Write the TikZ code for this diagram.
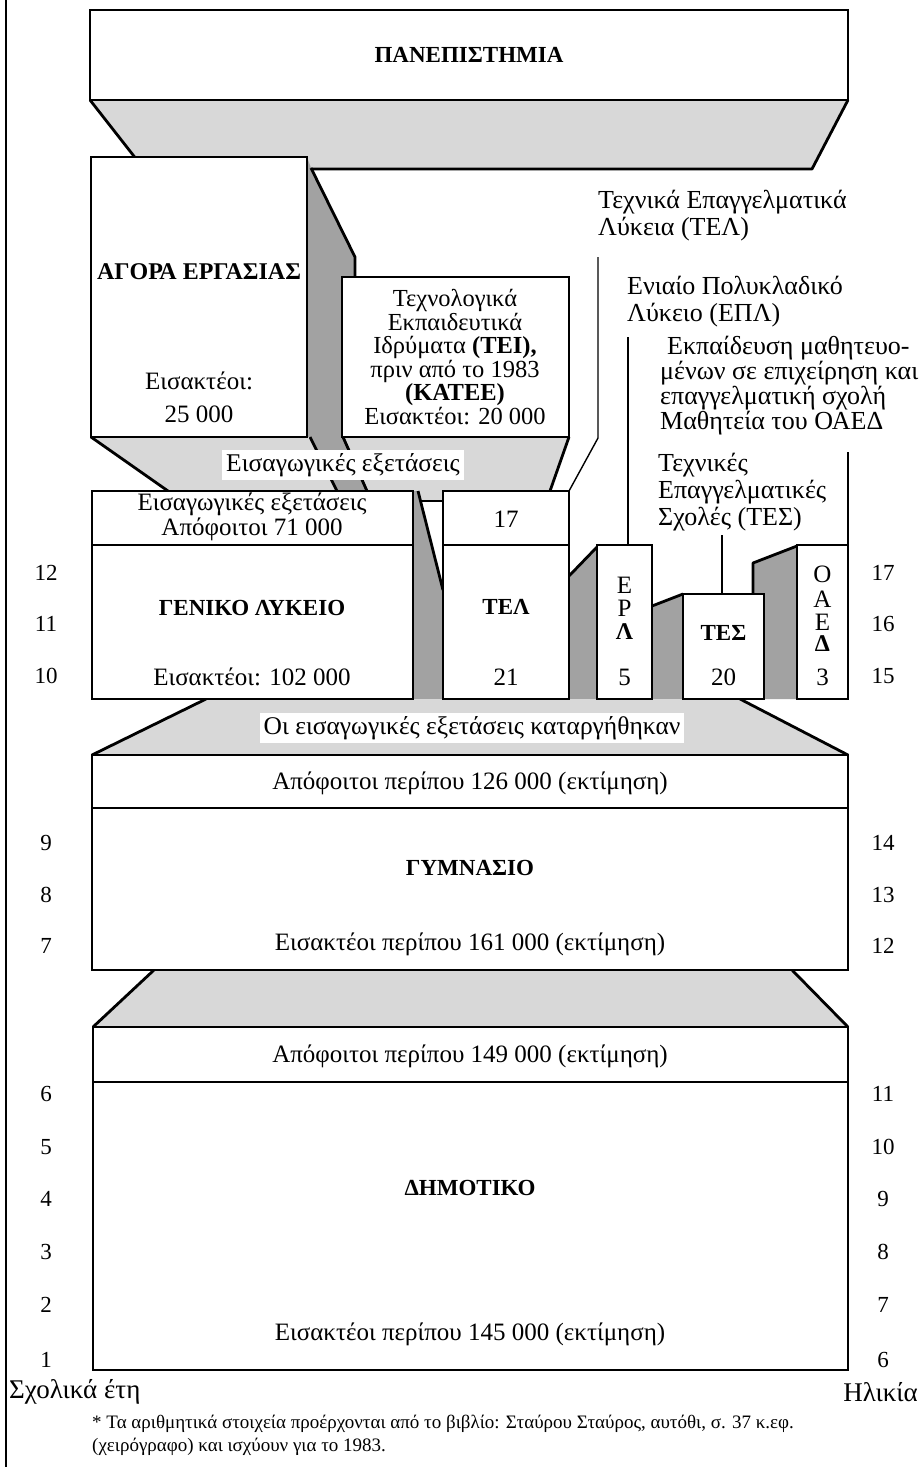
\documentclass[tikz,border=0pt]{standalone}
\usepackage{fontspec}
\setmainfont{Liberation Serif}
\usepackage{tikz}
\usetikzlibrary{calc}
\definecolor{ColLight}{RGB}{216,216,216}
\definecolor{ColDark}{RGB}{162,162,162}
\tikzstyle{BoxNode}=[draw=black,fill=white,line width=2.8pt,inner sep=0pt,outer sep=0pt,
font=\fontsize{23}{24}\selectfont\bfseries]
\tikzstyle{EdgeLine}=[black,line width=2.8pt,line join=round]
\tikzstyle{SplitLine}=[black,line width=2pt]
\tikzstyle{PointerLine}=[black,line width=1.4pt]
\tikzstyle{TextNode}=[inner sep=0pt,font=\fontsize{25}{24}\selectfont]
\tikzstyle{TitleNode}=[inner sep=0pt,font=\fontsize{23}{24}\selectfont\bfseries]
\tikzstyle{LabelNode}=[inner sep=0pt,anchor=west,align=left,font=\fontsize{26}{27}\selectfont]
\tikzstyle{WhiteLabel}=[fill=white,inner xsep=4pt,inner ysep=3pt,font=\fontsize{25.5}{24}\selectfont]
\tikzstyle{YearNode}=[inner sep=0pt,font=\fontsize{23}{23}\selectfont]
\tikzstyle{NoteNode}=[inner sep=0pt,anchor=west,align=left,font=\fontsize{19}{23}\selectfont]

\begin{document}
\begin{tikzpicture}[x=1pt,y=-1pt]
        \useasboundingbox(0,0)rectangle(922,1467);
        % funnels and side strips
        \fill[ColLight](90,100)--(848,100)--(812,169)--(144,169)--cycle;
        \draw[EdgeLine](90,100)--(144,169)--(812,169)--(848,100);
        \fill[ColDark](307,157)--(311,168)--(355,257)--(355,277)--(342,277)--(342,437)--(307,437)--cycle;
        \draw[EdgeLine](311,168)--(355,257)--(355,277);
        \fill[ColLight](91,437)--(569,437)--(550,491)--(443,491)--(443,501)--(418,501)--(418,491)--(168,491)--cycle;
        \draw[EdgeLine](91,437)--(168,491);
        \draw[EdgeLine](569,437)--(550,491);
        \draw[SplitLine](418,501)--(443,501);
        \fill[ColDark](310,437)--(343,437)--(367,491)--(337,491)--cycle;
        \draw[EdgeLine](310,437)--(337,491);
        \draw[EdgeLine](343,437)--(367,491);
        \fill[ColDark](413,491)--(418,491)--(443,590)--(443,699)--(413,699)--cycle;
        \draw[EdgeLine](418,491)--(443,590);
        \fill[ColDark](569,576)--(597,547)--(597,699)--(569,699)--cycle;
        \draw[EdgeLine](569,576)--(597,547);
        \fill[ColDark](652,606)--(683,594)--(683,699)--(652,699)--cycle;
        \draw[EdgeLine](652,606)--(683,594);
        \fill[ColDark](753,594)--(753,563)--(797,546)--(797,699)--(753,699)--cycle;
        \draw[EdgeLine](753,594)--(753,563)--(797,546);
        \fill[ColLight](206,699)--(740,699)--(848,755)--(92,755)--cycle;
        \draw[EdgeLine](206,699)--(92,755);
        \draw[EdgeLine](740,699)--(848,755);
        \fill[ColLight](154,970)--(792,970)--(848,1027)--(93,1027)--cycle;
        \draw[EdgeLine](154,970)--(93,1027);
        \draw[EdgeLine](792,970)--(848,1027);
        % boxes
        \node[BoxNode,minimum width=758pt,minimum height=90pt](pan)at(469,55){ΠΑΝΕΠΙΣΤΗΜΙΑ};
        \node[BoxNode,minimum width=216pt,minimum height=280pt](agora)at(199,297){};
        \node[BoxNode,minimum width=227pt,minimum height=160pt](tei)at(455.5,357){};
        \node[BoxNode,minimum width=321pt,minimum height=208pt](lyk)at(252.5,595){};
        \node[BoxNode,minimum width=126pt,minimum height=208pt](tel)at(506,595){};
        \node[BoxNode,minimum width=55pt,minimum height=154pt](epl)at(624.5,622){};
        \node[BoxNode,minimum width=81pt,minimum height=105pt](tes)at(723.5,646.5){};
        \node[BoxNode,minimum width=51pt,minimum height=154pt](oaed)at(822.5,622){};
        \node[BoxNode,minimum width=756pt,minimum height=215pt](gym)at(470,862.5){};
        \node[BoxNode,minimum width=755pt,minimum height=343pt](dim)at(470.5,1198.5){};
        \draw[SplitLine]([yshift=-54pt]lyk.north west)--([yshift=-54pt]lyk.north east);
        \draw[SplitLine]([yshift=-54pt]tel.north west)--([yshift=-54pt]tel.north east);
        \draw[SplitLine]([yshift=-53pt]gym.north west)--([yshift=-53pt]gym.north east);
        \draw[SplitLine]([yshift=-55pt]dim.north west)--([yshift=-55pt]dim.north east);
        % labels on the funnels
        \node[WhiteLabel](examA)at(343,465){Εισαγωγικές εξετάσεις};
        \node[WhiteLabel](examB)at(472,728){Οι εισαγωγικές εξετάσεις καταργήθηκαν};
        % texts in the boxes
        \node[TitleNode,font=\fontsize{24}{24}\selectfont\bfseries](agoraT)at(199,272){ΑΓΟΡΑ ΕΡΓΑΣΙΑΣ};
        \node[TextNode](agoraA)at(199,381){Εισακτέοι:};
        \node[TextNode](agoraB)at(199,414){25 000};
        \node[TextNode,align=center,font=\fontsize{24.5}{23.5}\selectfont](teiT)at(455,357){Τεχνολογικά\\Εκπαιδευτικά\\Ιδρύματα \textbf{(ΤΕΙ),}\\πριν από το 1983\\\textbf{(ΚΑΤΕΕ)}\\Εισακτέοι: 20 000};
        \node[TextNode,align=center,font=\fontsize{25}{25.5}\selectfont](lykA)at(252,517){Εισαγωγικές εξετάσεις\\Απόφοιτοι 71 000};
        \node[TitleNode](lykT)at(252,608){ΓΕΝΙΚΟ ΛΥΚΕΙΟ};
        \node[TextNode](lykB)at(252,677){Εισακτέοι: 102 000};
        \node[TextNode](telA)at(506,519){17};
        \node[TitleNode](telT)at(506,607){ΤΕΛ};
        \node[TextNode](telB)at(506,677){21};
        \node[TextNode](eplA)at(624.5,585){Ε};
        \node[TextNode](eplB)at(624.5,608){Ρ};
        \node[TextNode,font=\fontsize{24}{24}\selectfont\bfseries](eplC)at(624.5,632){Λ};
        \node[TextNode](eplN)at(624.5,677){5};
        \node[TitleNode](tesT)at(723.5,633){ΤΕΣ};
        \node[TextNode](tesN)at(723.5,677){20};
        \node[TextNode](oaedA)at(822.5,574){Ο};
        \node[TextNode](oaedB)at(822.5,599){Α};
        \node[TextNode](oaedC)at(822.5,622){Ε};
        \node[TextNode,font=\fontsize{24}{24}\selectfont\bfseries](oaedD)at(822.5,644){Δ};
        \node[TextNode](oaedN)at(822.5,677){3};
        \node[TextNode](gymA)at(470,783){Απόφοιτοι περίπου 126 000 (εκτίμηση)};
        \node[TitleNode](gymT)at(470,868){ΓΥΜΝΑΣΙΟ};
        \node[TextNode](gymB)at(470,944){Εισακτέοι περίπου 161 000 (εκτίμηση)};
        \node[TextNode](dimA)at(470,1056){Απόφοιτοι περίπου 149 000 (εκτίμηση)};
        \node[TitleNode](dimT)at(470,1188){ΔΗΜΟΤΙΚΟ};
        \node[TextNode](dimB)at(470,1334){Εισακτέοι περίπου 145 000 (εκτίμηση)};
        % labels on the right
        \node[LabelNode](telL)at(598,216){Τεχνικά Επαγγελματικά\\Λύκεια (ΤΕΛ)};
        \node[LabelNode](eplL)at(627,302){Ενιαίο Πολυκλαδικό\\Λύκειο (ΕΠΛ)};
        \node[LabelNode,font=\fontsize{26}{25}\selectfont](oaedL)at(660,386){\hspace*{7pt}Εκπαίδευση μαθητευο-\\μένων σε επιχείρηση και\\επαγγελματική σχολή\\Μαθητεία του ΟΑΕΔ};
        \node[LabelNode](tesL)at(658,492){Τεχνικές\\Επαγγελματικές\\Σχολές (ΤΕΣ)};
        \coordinate(telTop)at(598,257);
        \coordinate(telBend)at(598,438);
        \coordinate(eplTop)at(628,337);
        \coordinate(tesTop)at(722,535);
        \coordinate(oaedTop)at(848,452);
        \draw[PointerLine](telTop)--(telBend)--(tel.north east);
        \draw[PointerLine](eplTop)--(eplTop|-epl.north);
        \draw[PointerLine](tesTop)--(tesTop|-tes.north);
        \draw[PointerLine](oaedTop)--(oaed.north east);
        % school years and ages
        \foreach \y/\l/\r in {573/12/17,624/11/16,676/10/15,843/9/14,895/8/13,946/7/12,
          1094/6/11,1147/5/10,1199/4/9,1252/3/8,1305/2/7,1360/1/6}{
          \node[YearNode](yl\l)at(46,\y){\l};
          \node[YearNode](ar\r)at(883,\y){\r};
        }
        \node[TextNode,anchor=west,font=\fontsize{27}{27}\selectfont](yearsL)at(9,1392){Σχολικά έτη};
        \node[TextNode,anchor=east,font=\fontsize{27}{27}\selectfont](ageL)at(918,1392){Ηλικία};
        \node[NoteNode](note)at(92,1435){* Τα αριθμητικά στοιχεία προέρχονται από το βιβλίο: Σταύρου Σταύρος, αυτόθι, σ. 37 κ.εφ.\\(χειρόγραφο) και ισχύουν για το 1983.};
        \coordinate(frameTop)at(6,0);
        \coordinate(frameBot)at(6,1467);
        \draw[line width=2pt](frameTop)--(frameBot);
    \end{tikzpicture}
\end{document}
